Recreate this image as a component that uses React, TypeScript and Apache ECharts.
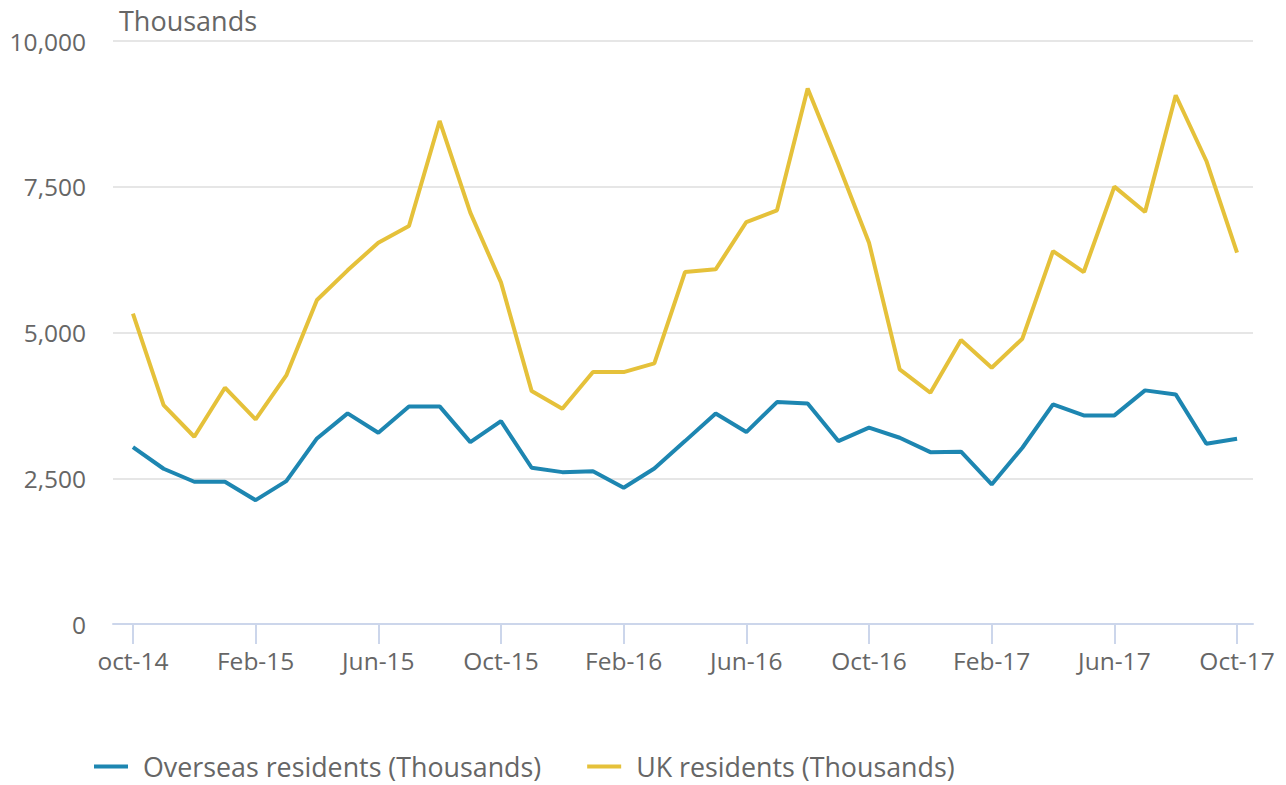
import React, { useEffect, useRef } from "react";
import * as echarts from "echarts";

const months = [
  "oct-14", "Nov-14", "Dec-14", "Jan-15", "Feb-15", "Mar-15", "Apr-15", "May-15", "Jun-15",
  "Jul-15", "Aug-15", "Sep-15", "Oct-15", "Nov-15", "Dec-15", "Jan-16", "Feb-16", "Mar-16",
  "Apr-16", "May-16", "Jun-16", "Jul-16", "Aug-16", "Sep-16", "Oct-16", "Nov-16", "Dec-16",
  "Jan-17", "Feb-17", "Mar-17", "Apr-17", "May-17", "Jun-17", "Jul-17", "Aug-17", "Sep-17", "Oct-17",
];

const overseas = [
  3034, 2663, 2440, 2440, 2124, 2450, 3183, 3612, 3281, 3732, 3732, 3120,
  3480, 2680, 2605, 2622, 2337, 2668, 3137, 3612, 3292, 3806, 3784, 3137,
  3367, 3195, 2948, 2955, 2394, 3023, 3767, 3578, 3578, 4007, 3938, 3092, 3178,
];

const uk = [
  5323, 3755, 3212, 4053, 3509, 4264, 5557, 6066, 6541, 6827, 8628, 7056,
  5860, 3995, 3693, 4321, 4321, 4470, 6037, 6083, 6895, 7096, 9184, 7885,
  6541, 4367, 3967, 4870, 4396, 4894, 6397, 6037, 7502, 7067, 9069, 7942, 6370,
];

const tickIndices = [0, 4, 8, 12, 16, 20, 24, 28, 32, 36];

const FONT = "'Open Sans', sans-serif";
const TEXT = "#666666";

export default function App() {
  const ref = useRef<HTMLDivElement>(null);
  useEffect(() => {
    if (!ref.current) return;
    const chart = echarts.init(ref.current, undefined, { renderer: "svg" });
    chart.setOption({
      animation: false,
      textStyle: { fontFamily: FONT },
      grid: { left: 113, right: 33, top: 41, bottom: 161, containLabel: false },
      graphic: [
        {
          type: "text",
          left: 119,
          top: 7,
          style: { text: "Thousands", fill: TEXT, font: `27px ${FONT}` },
        },
      ],
      legend: {
        left: 89,
        top: 748,
        itemWidth: 34,
        itemHeight: 4,
        itemGap: 46,
        icon: "rect",
        textStyle: {
          color: TEXT,
          fontSize: 26.8,
          fontFamily: FONT,
          padding: [0, 0, 0, 10],
        },
        data: ["Overseas residents (Thousands)", "UK residents (Thousands)"],
      },
      xAxis: {
        type: "value",
        min: -0.65,
        max: 36.52,
        axisLine: { show: true, lineStyle: { color: "#ccd6eb", width: 2 } },
        axisTick: {
          show: true,
          length: 20,
          customValues: tickIndices,
          lineStyle: { color: "#ccd6eb", width: 2 },
        },
        axisLabel: {
          customValues: tickIndices,
          formatter: (v: number) => months[Math.round(v)] ?? "",
          color: TEXT,
          fontSize: 24.5,
          fontFamily: FONT,
          margin: 24,
        },
        splitLine: { show: false },
      },
      yAxis: {
        type: "value",
        min: 0,
        max: 10000,
        interval: 2500,
        axisLine: { show: false },
        axisTick: { show: false },
        axisLabel: {
          color: TEXT,
          fontSize: 24.5,
          fontFamily: FONT,
          margin: 27,
          formatter: (v: number) => v.toLocaleString("en-US"),
        },
        splitLine: { lineStyle: { color: "#e6e6e6", width: 2 } },
      },
      series: [
        {
          name: "Overseas residents (Thousands)",
          type: "line",
          data: overseas.map((v, i) => [i, v]),
          showSymbol: false,
          lineStyle: { color: "#1d86b1", width: 4 },
          itemStyle: { color: "#1d86b1" },
        },
        {
          name: "UK residents (Thousands)",
          type: "line",
          data: uk.map((v, i) => [i, v]),
          showSymbol: false,
          lineStyle: { color: "#e5c13a", width: 4 },
          itemStyle: { color: "#e5c13a" },
        },
      ],
    });
    return () => chart.dispose();
  }, []);
  return (
    <div
      ref={ref}
      style={{ position: "absolute", left: 0, top: 0, width: 1286, height: 785 }}
    />
  );
}
